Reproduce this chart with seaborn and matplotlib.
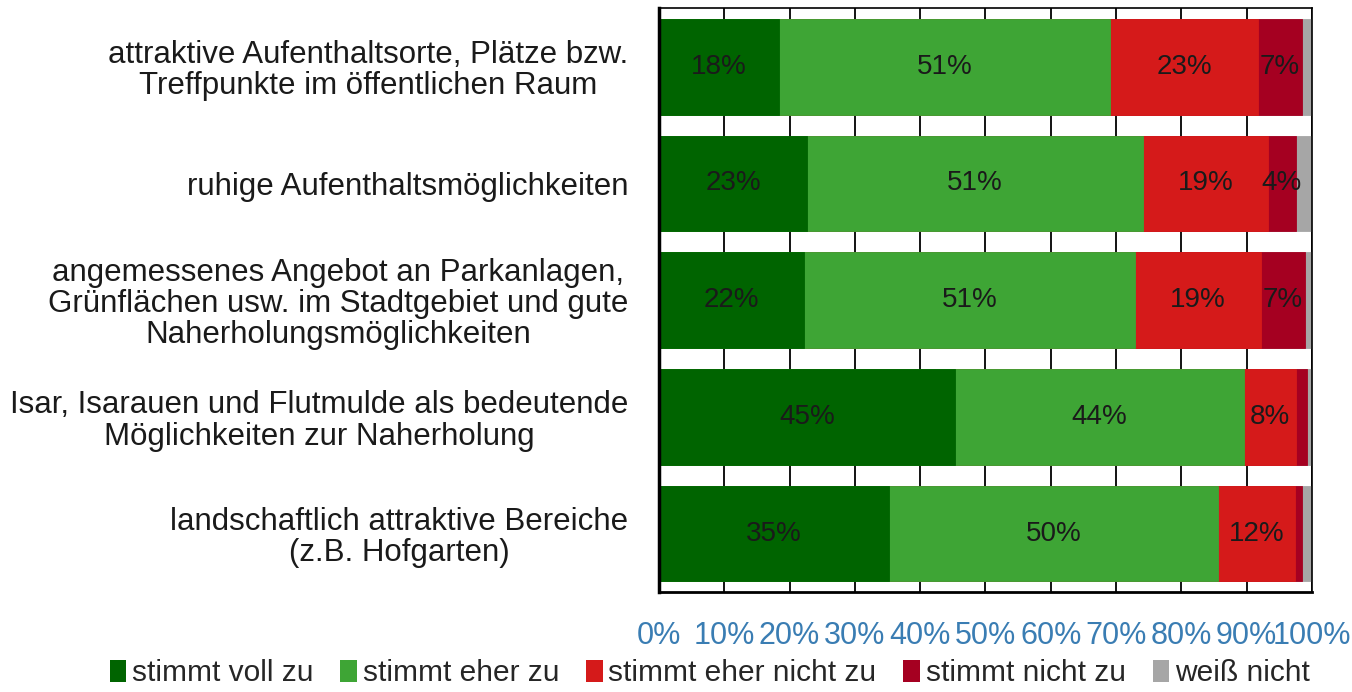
import matplotlib
matplotlib.use("Agg")
import matplotlib.pyplot as plt
import seaborn as sns
import pandas as pd
import numpy as np
from matplotlib.patches import Patch
from matplotlib.ticker import MultipleLocator, PercentFormatter

categories = [
    "attraktive Aufenthaltsorte, Plätze bzw.\nTreffpunkte im öffentlichen Raum",
    "ruhige Aufenthaltsmöglichkeiten",
    "angemessenes Angebot an Parkanlagen,\nGrünflächen usw. im Stadtgebiet und gute\nNaherholungsmöglichkeiten",
    "Isar, Isarauen und Flutmulde als bedeutende\nMöglichkeiten zur Naherholung",
    "landschaftlich attraktive Bereiche\n(z.B. Hofgarten)",
]
series = ["stimmt voll zu", "stimmt eher zu", "stimmt eher nicht zu", "stimmt nicht zu", "weiß nicht"]
voll_zu = [18.4, 22.7, 22.2, 45.3, 35.2]
eher_zu = [50.7, 51.4, 50.7, 44.3, 50.4]
eher_nicht = [22.6, 19.2, 19.3, 7.9, 11.8]
nicht_zu = [6.8, 4.2, 6.7, 1.7, 1.1]
weiss_nicht = [1.5, 2.5, 1.1, 0.8, 1.5]
colors = ["#006400", "#3ea535", "#d51a1a", "#a50021", "#a6a6a6"]

df = pd.DataFrame({"Kategorie": categories, series[0]: voll_zu, series[1]: eher_zu,
                   series[2]: eher_nicht, series[3]: nicht_zu, series[4]: weiss_nicht})
vals = df[series].to_numpy()
cum = vals.cumsum(axis=1)

sns.set_style("white")
plt.rcParams["font.family"] = ["Liberation Sans", "DejaVu Sans"]

fig = plt.figure(figsize=(13.52, 6.92), dpi=100)
ax = fig.add_axes([0.4874, 0.1445, 0.4830, 0.8435])

# draw cumulative bars from longest to shortest so they stack visually
for i in range(len(series) - 1, -1, -1):
    sns.barplot(x=cum[:, i], y=categories, color=colors[i], orient="h",
                width=0.82, saturation=1, ax=ax, zorder=2,
                edgecolor=colors[i], linewidth=0.6)

for r in range(len(categories)):
    for i in range(len(series)):
        v = vals[r, i]
        if v >= 3.5:
            ax.text(cum[r, i] - v / 2, r, f"{v:.0f}%", ha="center", va="center",
                    fontsize=20, color="#1a1a1a", zorder=3)

ax.set_xlim(0, 100)
ax.set_ylim(4.5, -0.5)
ax.xaxis.set_major_locator(MultipleLocator(10))
ax.xaxis.set_major_formatter(PercentFormatter(decimals=0))
ax.grid(axis="x", color="black", linewidth=1.3, zorder=0)
ax.set_axisbelow(True)
ax.set_xlabel("")
ax.set_ylabel("")

ax.set_yticks(range(len(categories)))
ax.set_yticklabels(categories, fontsize=22.5, multialignment="center",
                   color="#1a1a1a", linespacing=1.05)
ax.set_yticks(np.arange(-0.5, 4.6, 1), minor=True)
ax.tick_params(axis="y", which="major", length=0, pad=22)
ax.tick_params(axis="y", which="minor", length=7, width=1.2, direction="out", color="black")
ax.tick_params(axis="x", length=8, width=1.2, direction="out", color="black",
               labelsize=22, labelcolor="#3a7db3", pad=13)

for s in ax.spines.values():
    s.set_color("black")
    s.set_linewidth(1.2)
ax.spines["left"].set_linewidth(2.5)
ax.spines["bottom"].set_linewidth(2.0)

handles = [Patch(facecolor=c, edgecolor="none") for c in colors]
fig.legend(handles, series, loc="center", bbox_to_anchor=(0.525, 0.027), ncol=5,
           frameon=False, fontsize=21.5, handlelength=0.55, handleheight=0.75,
           handletextpad=0.2, columnspacing=0.9)

fig.savefig("out.png", dpi=100)
